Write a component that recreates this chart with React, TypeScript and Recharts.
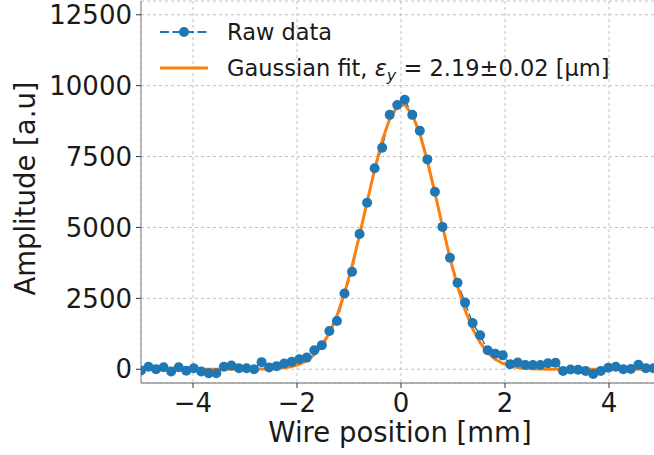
import { ComposedChart, Line, XAxis, YAxis, CartesianGrid, Legend, Label } from "recharts";

const FONT = "DejaVu Sans, Verdana, sans-serif";
const BLUE = "#1f77b4";
const ORANGE = "#ff7f0e";

// wire positions [mm]
const wirePos = [
  -5.0, -4.855, -4.71, -4.565, -4.42, -4.275, -4.13, -3.986, -3.841, -3.696,
  -3.551, -3.406, -3.261, -3.116, -2.971, -2.826, -2.681, -2.536, -2.391, -2.246,
  -2.101, -1.957, -1.812, -1.667, -1.522, -1.377, -1.232, -1.087, -0.942, -0.797,
  -0.652, -0.507, -0.362, -0.217, -0.072, 0.072, 0.217, 0.362, 0.507, 0.652,
  0.797, 0.942, 1.087, 1.232, 1.377, 1.522, 1.667, 1.812, 1.957, 2.101,
  2.246, 2.391, 2.536, 2.681, 2.826, 2.971, 3.116, 3.261, 3.406, 3.551,
  3.696, 3.841, 3.986, 4.13, 4.275, 4.42, 4.565, 4.71, 4.855, 5.0,
];

// measured amplitude [a.u]
const rawAmp = [
  -40, 90, 0, 70, -80, 70, -50, 35, -80, -140,
  -140, 90, 130, 35, 35, 0, 250, 60, 110, 200,
  260, 350, 410, 670, 850, 1350, 1700, 2670, 3440, 4770,
  5870, 7090, 7810, 8970, 9320, 9500, 8970, 8410, 7400, 6260,
  5020, 3930, 3050, 2350, 1630, 1200, 670, 550, 490, 180,
  240, 150, 150, 150, 210, 230, -60, -10, -20, -60,
  -170, -60, 50, 90, 0, 10, 160, 35, 35, 20,
];

// gaussian fit curve
const fitAmp = [
  0, 0, 0, 0, 0, 0, 0, 0, 0, 0,
  0, 0, 0, 0, 1, 2, 6, 12, 25, 50,
  95, 173, 304, 512, 826, 1275, 1888, 2678, 3636, 4732,
  5898, 7043, 8057, 8829, 9269, 9324, 8987, 8298, 7340, 6221,
  5050, 3927, 2927, 2089, 1429, 935, 587, 353, 203, 113,
  60, 30, 15, 7, 3, 1, 0, 0, 0, 0,
  0, 0, 0, 0, 0, 0, 0, 0, 0, 0,
];

const xTicks = [-4, -2, 0, 2, 4];
const yTicks = [0, 2500, 5000, 7500, 10000, 12500];

const data = wirePos.map((x, i) => ({ x, raw: rawAmp[i], fit: fitAmp[i] }));

const fmt = (v: number) => String(v).replace("-", "\u2212");

function LegendBox() {
  return (
    <svg width={654} height={90} style={{ fontFamily: FONT, display: "block" }}>
      <line x1={160} y1={32} x2={208} y2={32} stroke={BLUE} strokeWidth={2} strokeDasharray="9 3.5" />
      <circle cx={184} cy={32} r={5} fill={BLUE} />
      <text x={227} y={40} fontSize={22.5} fill="#1a1a1a">Raw data</text>
      <line x1={160} y1={68} x2={208} y2={68} stroke={ORANGE} strokeWidth={3} />
      <text x={227} y={76} fontSize={22.5} fill="#1a1a1a">
        Gaussian fit,{" "}
        <tspan fontStyle="italic">ε</tspan>
        <tspan fontStyle="italic" fontSize={16} dy={5}>y</tspan>
        <tspan dy={-5}> = 2.19±0.02 [μm]</tspan>
      </text>
    </svg>
  );
}

export default function App() {
  return (
    <div style={{ position: "absolute", left: 0, top: 0, width: 654, height: 455, overflow: "hidden", background: "#fff" }}>
      <ComposedChart width={661} height={455} data={data} margin={{ top: 1, right: 0, bottom: 0, left: 0 }}>
        <CartesianGrid stroke="#b0b0b0" strokeWidth={0.8} strokeDasharray="3 3" />
        <XAxis
          xAxisId="top"
          orientation="top"
          dataKey="x"
          type="number"
          domain={[-5, 5]}
          height={0}
          tick={false}
          tickLine={false}
          axisLine={{ stroke: "#999", strokeWidth: 1.3 }}
        />
        <XAxis
          dataKey="x"
          type="number"
          domain={[-5, 5]}
          ticks={xTicks}
          allowDataOverflow
          height={72}
          tickSize={5}
          tickMargin={6}
          tickFormatter={fmt}
          tick={{ fontSize: 26, fill: "#1a1a1a", fontFamily: FONT }}
          tickLine={{ stroke: "#333" }}
          axisLine={{ stroke: "#999", strokeWidth: 1.3 }}
        >
          <Label
            content={() => (
              <text x={400} y={442} textAnchor="middle" fontSize={27.5} fill="#1a1a1a" fontFamily={FONT}>
                Wire position [mm]
              </text>
            )}
          />
        </XAxis>
        <YAxis
          domain={[-485, 12985]}
          ticks={yTicks}
          allowDataOverflow
          width={141}
          tickSize={5}
          tickMargin={4}
          tickFormatter={fmt}
          tick={{ fontSize: 26, fill: "#1a1a1a", fontFamily: FONT }}
          tickLine={{ stroke: "#333" }}
          axisLine={{ stroke: "#999", strokeWidth: 1.3 }}
        >
          <Label
            content={() => (
              <text
                x={35}
                y={188.5}
                transform="rotate(-90 35 188.5)"
                textAnchor="middle"
                fontSize={27.5}
                fill="#1a1a1a"
                fontFamily={FONT}
              >
                Amplitude [a.u]
              </text>
            )}
          />
        </YAxis>
        <Legend
          layout="vertical"
          verticalAlign="middle"
          align="center"
          wrapperStyle={{ top: 0, left: 0, width: 654, height: 90 }}
          content={() => <LegendBox />}
        />
        <Line
          dataKey="raw"
          stroke={BLUE}
          strokeWidth={1.5}
          strokeDasharray="9 3.5"
          dot={{ r: 5, fill: BLUE, stroke: "none" }}
          isAnimationActive={false}
        />
        <Line dataKey="fit" stroke={ORANGE} strokeWidth={3} dot={false} isAnimationActive={false} />
      </ComposedChart>
    </div>
  );
}
